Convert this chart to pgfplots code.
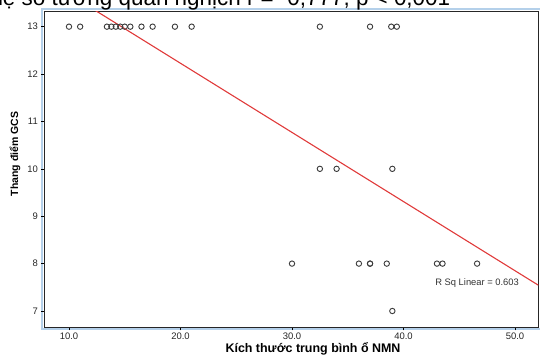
\documentclass[border=0pt]{standalone}
\usepackage{fontspec}
\setmainfont{Liberation Sans}
\usepackage{pgfplots}
\pgfplotsset{compat=1.18}
\definecolor{spssblue}{HTML}{B4D0EA}
\definecolor{fitred}{HTML}{E03A3A}
\definecolor{markgray}{HTML}{3A3A3A}
\begin{document}
\begin{tikzpicture}[x=1bp,y=1bp]
\useasboundingbox (0,0) rectangle (540,354);
\draw[spssblue, line width=2bp] (540,344.5) -- (41.5,344.5) -- (41.5,25) -- (540,25);
\begin{axis}[
  at={(44.3bp,26.7bp)}, anchor=south west,
  scale only axis, width=494bp, height=315.8bp,
  xmin=7.785, xmax=52.09, ymin=6.656, ymax=13.32,
  axis line style={black!85, line width=0.8bp},
  xtick={10,20,30,40,50}, xticklabels={10.0,20.0,30.0,40.0,50.0},
  ytick={7,8,9,10,11,12,13},
  tick pos=left, tick align=outside, major tick length=3bp,
  tick style={black, line width=0.6bp},
  tick label style={font=\fontsize{9.5}{10}\selectfont, text=black!85},
  xticklabel style={yshift=1bp},
  /pgf/number format/assume math mode=true,
]
\addplot[only marks, mark=o, mark size=2.7bp, markgray, mark options={line width=0.9bp}] coordinates {
 (10.0,13) (11.0,13) (13.4,13) (13.8,13) (14.2,13) (14.6,13) (15.0,13) (15.5,13)
 (16.5,13) (17.5,13) (19.5,13) (21.0,13) (32.5,13) (37.0,13) (38.9,13) (39.4,13)
 (32.5,10) (34.0,10) (39.0,10)
 (30.0,8) (36.0,8) (37.0,8) (37.0,8) (38.5,8) (43.0,8) (43.5,8) (46.6,8)
 (39.0,7)
};
\addplot[fitred, line width=1.1bp] coordinates {(7.785,14.01) (52.09,7.545)};
\node[font=\fontsize{9.4}{10}\selectfont, text=black!80] at (axis cs:46.6,7.59) {R Sq Linear = 0.603};
\end{axis}
\node[anchor=base west, font=\fontsize{22.5}{24}\selectfont] at (-13,348.5) {hệ số tương quan nghịch r = -0,777, p < 0,001};
\node[rotate=90, font=\bfseries\fontsize{10.5}{12}\selectfont] at (15,200) {Thang điểm GCS};
\node[anchor=base, font=\bfseries\fontsize{12.5}{14}\selectfont] at (313,1.5) {Kích thước trung bình ổ NMN};
\end{tikzpicture}
\end{document}
